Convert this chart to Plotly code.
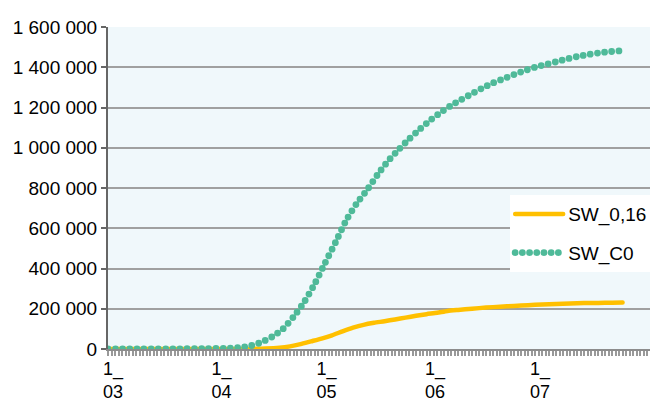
import plotly.graph_objects as go

# Cumulative series, read at dates through spring/summer 2020
c0_dates = [
    "2020-03-01", "2020-03-11", "2020-03-21", "2020-03-29", "2020-04-04",
    "2020-04-08", "2020-04-11", "2020-04-14", "2020-04-17", "2020-04-20",
    "2020-04-23", "2020-04-26", "2020-04-29", "2020-05-02", "2020-05-05",
    "2020-05-08", "2020-05-11", "2020-05-14", "2020-05-17", "2020-05-20",
    "2020-05-23", "2020-05-26", "2020-05-29", "2020-06-01", "2020-06-04",
    "2020-06-07", "2020-06-10", "2020-06-13", "2020-06-16", "2020-06-19",
    "2020-06-22", "2020-06-25", "2020-06-28", "2020-07-01", "2020-07-04",
    "2020-07-07", "2020-07-10", "2020-07-13", "2020-07-16", "2020-07-19",
    "2020-07-22", "2020-07-25", "2020-07-26",
]
sw_c0 = [
    0, 200, 800, 2000, 4000,
    8000, 17000, 35000, 62000, 100000,
    160000, 232000, 322000, 427000, 530000,
    638000, 722000, 790000, 866000, 934000,
    990000, 1043000, 1091000, 1136000, 1175000,
    1210000, 1240000, 1269000, 1297000, 1322000,
    1343000, 1364000, 1383000, 1400000, 1414000,
    1427000, 1441000, 1453000, 1463000, 1471000,
    1477000, 1481000, 1483000,
]

s016_dates = [
    "2020-03-01", "2020-04-10", "2020-04-15", "2020-04-19", "2020-04-22",
    "2020-04-25", "2020-04-28", "2020-05-01", "2020-05-04", "2020-05-07",
    "2020-05-10", "2020-05-13", "2020-05-16", "2020-05-19", "2020-05-22",
    "2020-05-25", "2020-05-28", "2020-05-31", "2020-06-03", "2020-06-06",
    "2020-06-09", "2020-06-13", "2020-06-17", "2020-06-21", "2020-06-25",
    "2020-06-29", "2020-07-03", "2020-07-07", "2020-07-11", "2020-07-15",
    "2020-07-19", "2020-07-23", "2020-07-26",
]
sw_016 = [
    0, 500, 2000, 6000, 13000,
    24000, 38000, 52000, 68000, 88000,
    106000, 120000, 130000, 138000, 147000,
    156000, 165000, 173000, 180000, 189000,
    194000, 200000, 206000, 210000, 214000,
    218000, 221000, 223000, 226000, 228000,
    229000, 230000, 231000,
]

x_tick_dates = ["2020-03-01", "2020-04-01", "2020-05-01", "2020-06-01", "2020-07-01"]
x_tick_text = ["1_<br>03", "1_<br>04", "1_<br>05", "1_<br>06", "1_<br>07"]

y_tick_vals = [0, 200000, 400000, 600000, 800000, 1000000, 1200000, 1400000, 1600000]
y_tick_text = ["0", "200 000", "400 000", "600 000", "800 000",
               "1 000 000", "1 200 000", "1 400 000", "1 600 000"]

FONT = "Liberation Sans, Arial, sans-serif"

fig = go.Figure()
fig.add_trace(go.Scatter(
    x=s016_dates, y=sw_016, name="SW_0,16", mode="lines",
    line=dict(color="#FFC000", width=4.5, shape="spline", smoothing=0.6),
    legendgroup="a",
))
fig.add_trace(go.Scatter(
    x=c0_dates, y=sw_c0, name="SW_C0", mode="lines",
    line=dict(color="#4FBA99", width=6.8, dash="0px,7.2px",
              shape="spline", smoothing=0.6),
    legendgroup="b",
))

fig.update_layout(
    width=659, height=401,
    margin=dict(l=108, r=9, t=27, b=52, autoexpand=False),
    paper_bgcolor="white",
    plot_bgcolor="#F0F8FB",
    font=dict(family=FONT, size=19, color="black"),
    showlegend=True,
    legend=dict(
        x=0.742, y=0.478, xanchor="left", yanchor="top",
        bgcolor="white", borderwidth=0,
        font=dict(family=FONT, size=19, color="black"),
        tracegroupgap=11, traceorder="grouped",
        itemwidth=48,
    ),
)

fig.update_xaxes(
    type="date", automargin=False,
    range=["2020-03-01", "2020-08-02 20:00"],
    tickmode="array", tickvals=x_tick_dates, ticktext=x_tick_text,
    ticklabelshift=5,
    ticks="outside", ticklen=2, tickwidth=1.5, tickcolor="#999999",
    minor=dict(tickmode="linear", tick0="2020-03-01", dtick=86400000,
               ticks="outside", ticklen=5, tickwidth=1.5, tickcolor="#999999",
               showgrid=False),
    showline=True, linecolor="#8C8C8C", linewidth=2,
    showgrid=False, zeroline=False,
    tickfont=dict(family=FONT, size=18, color="black"),
)
fig.update_yaxes(
    automargin=False,
    range=[0, 1600000],
    tickmode="array", tickvals=y_tick_vals, ticktext=y_tick_text,
    ticks="outside", ticklen=5, tickwidth=1.5, tickcolor="#666666",
    showline=True, linecolor="#666666", linewidth=2,
    showgrid=True, gridcolor="#A0A0A0", gridwidth=2,
    zeroline=False,
    tickfont=dict(family=FONT, size=19, color="black"),
)

# Round caps turn the zero-length dashes into dots
round_caps = """
var st = document.createElement('style');
st.textContent = 'path.js-line { stroke-linecap: round; }';
document.head.appendChild(st);
"""

fig.write_html("out.html", post_script=round_caps)
